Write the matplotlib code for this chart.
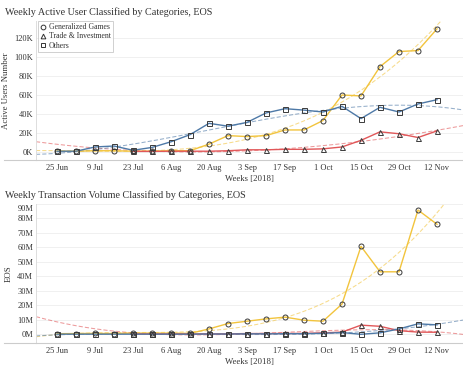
import numpy as np
import matplotlib
matplotlib.use("Agg")
import matplotlib.pyplot as plt
from matplotlib.lines import Line2D
import matplotlib.transforms as mtrans

plt.rcParams['font.family'] = ['Liberation Serif', 'DejaVu Serif']

weeks = ["25 Jun", "2 Jul", "9 Jul", "16 Jul", "23 Jul", "30 Jul", "6 Aug", "13 Aug",
         "20 Aug", "27 Aug", "3 Sep", "10 Sep", "17 Sep", "24 Sep", "1 Oct", "8 Oct",
         "15 Oct", "22 Oct", "29 Oct", "5 Nov", "12 Nov"]
tick_labels = weeks[::2]

# Weekly active users (thousands); None = no data that week
users_games = [0.5, 0.5, 1, 1, 0.5, 0.5, 1, 1, 8, 17, 16, 17, 23, 23, 33, 60, 59, 90, 106, 107, 130]
users_trade = [None, None, None, None, 0.3, 0.3, 0.5, 0.5, 0.5, 1, 2, 2, 2.5, 2.5, 3, 5, 12, 21, 19, 15, 22]
users_others = [0.5, 0.5, 5, 6, 1.5, 4.5, 10.5, 18, 30, 27, 31, 41, 45.5, 44, 42, 48, 35, 47, 42, 50.5, 55]

# Weekly transaction volume (millions EOS)
vol_games = [0.4, 0.5, 0.6, 0.5, 0.8, 0.8, 0.8, 0.6, 3.7, 7.4, 9, 10.6, 11.8, 9.7, 9, 20.8, 60.5, 43, 43, 85.5, 75.7]
vol_trade = [None, None, None, None, 0.2, 0.2, 0.2, 0.2, 0.3, 0.3, 0.5, 0.5, 0.6, 0.6, 1.0, 1.5, 6.3, 5.5, 2.5, 1.5, 1.4]
vol_others = [0.1, 0.1, 0.1, 0.1, 0.1, 0.1, 0.1, 0.1, 0.2, 0.2, 0.3, 0.3, 0.4, 0.4, 0.7, 1.2, 0.0, 1.0, 3.7, 7.2, 6.5]

series_names = ["Generalized Games", "Trade & Investment", "Others"]
colors = ["#F2C43D", "#E15759", "#4E79A7"]
markers = ["o", "^", "s"]

W, H = 463, 371
fig = plt.figure(figsize=(W / 100, H / 100), dpi=100)

def fr(x0, y0, x1, y1):
    return [x0 / W, 1 - y1 / H, (x1 - x0) / W, (y1 - y0) / H]

x = np.arange(len(weeks))
xlim = (-21 / 19, 20 + 26 / 19)
xs = np.linspace(xlim[0], xlim[1], 300)
txt = "#333333"

def panel(rect, data, ylim, yticks, ylabels, ylabel, title, title_y):
    ax = fig.add_axes(rect)
    ax.set_xlim(*xlim)
    ax.set_ylim(*ylim)
    for d, c in zip(data, colors):
        arr = np.array([np.nan if v is None else v for v in d], dtype=float)
        ok = ~np.isnan(arr)
        coef = np.polyfit(x[ok], arr[ok], 3)
        ax.plot(xs, np.polyval(coef, xs), ls=(0, (4, 2)), lw=0.75, color=c, alpha=0.6, zorder=2)
    for d, c, m in zip(data, colors, markers):
        arr = np.array([np.nan if v is None else v for v in d], dtype=float)
        ax.plot(x, arr, color=c, lw=1.0, zorder=3)
        ax.plot(x, arr, ls="none", marker=m, ms=3.6, mfc="none", mec="#3a3a3a", mew=0.7, zorder=4)
    ax.set_yticks(yticks)
    ax.set_yticklabels(ylabels)
    ax.set_xticks(x[::2])
    ax.set_xticklabels(tick_labels)
    ax.tick_params(length=0, labelsize=6, colors=txt, pad=3)
    ax.tick_params(axis="y", pad=2)
    ax.grid(axis="y", color="#eeeeee", lw=0.6)
    ax.set_axisbelow(True)
    for s in ["top", "right"]:
        ax.spines[s].set_visible(False)
    ax.spines["left"].set_color("#dddddd")
    ax.spines["bottom"].set_color("#cccccc")
    ax.spines["left"].set_linewidth(0.7)
    ax.spines["bottom"].set_linewidth(0.8)
    ax.set_xlabel("Weeks [2018]", fontsize=6.3, color=txt, labelpad=2)
    ax.set_ylabel(ylabel, fontsize=6.3, color=txt, labelpad=3)
    fig.text(5 / W, 1 - title_y / H, title, fontsize=7.3, color=txt, va="center", ha="left")
    yb = rect[1]
    fig.add_artist(Line2D([4 / W, rect[0]], [yb, yb], transform=fig.transFigure, color="#cccccc", lw=0.8))
    return ax

ax1 = panel(fr(36, 21, 463, 160), [users_games, users_trade, users_others],
            (-8.8, 138.3), [0, 20, 40, 60, 80, 100, 120],
            ["0K", "20K", "40K", "60K", "80K", "100K", "120K"],
            "Active Users Number", "Weekly Active User Classified by Categories, EOS", 12)

ax2 = panel(fr(36, 203.5, 463, 343.3), [vol_games, vol_trade, vol_others],
            (-6.2, 90), [0, 10, 20, 30, 40, 50, 60, 70, 80, 90],
            ["0M", "10M", "20M", "30M", "40M", "50M", "60M", "70M", "80M", "90M"],
            "EOS", "Weekly Transaction Volume Classified by Categories, EOS", 195)
lab = ax2.get_yticklabels()[-1]
lab.set_transform(lab.get_transform() + mtrans.ScaledTranslation(0, -4 / 100, fig.dpi_scale_trans))

handles = [Line2D([], [], ls="none", marker=m, ms=3.4, mfc="none", mec="#333333", mew=0.7) for m in markers]
leg = ax1.legend(handles, series_names, loc="upper left", bbox_to_anchor=(0.005, 1.0),
                 fontsize=5.6, frameon=True, fancybox=False, edgecolor="#bbbbbb",
                 borderpad=0.3, labelspacing=0.15, handlelength=0.7, handletextpad=0.4,
                 borderaxespad=0.0)
leg.get_frame().set_linewidth(0.6)
for t in leg.get_texts():
    t.set_color(txt)

fig.savefig("out.png", dpi=100)
